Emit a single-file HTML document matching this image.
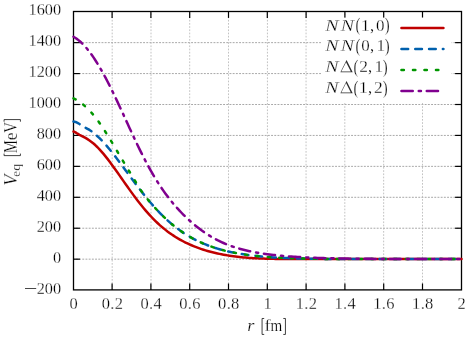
<!DOCTYPE html>
<html><head><meta charset="utf-8"><title>plot</title>
<style>
html,body{margin:0;padding:0;background:#fff;overflow:hidden;}
svg{display:block;}
text{font-family:"Liberation Serif";font-size:16.5px;fill:#000;stroke:#fff;stroke-width:0.25px;}
.it{font-style:italic;}
.tx{filter:grayscale(1);}
</style></head><body>
<svg width="469" height="339" viewBox="0 0 469 339">
<rect width="469" height="339" fill="#fff"/>
<g stroke="#929292" stroke-width="0.8" stroke-dasharray="1.9 1.3" stroke-dashoffset="0.8" fill="none"><line x1="73.5" y1="259.17" x2="461.5" y2="259.17"/><line x1="73.5" y1="228.23" x2="461.5" y2="228.23"/><line x1="73.5" y1="197.30" x2="461.5" y2="197.30"/><line x1="73.5" y1="166.37" x2="461.5" y2="166.37"/><line x1="73.5" y1="135.43" x2="461.5" y2="135.43"/><line x1="73.5" y1="104.50" x2="461.5" y2="104.50"/><line x1="73.5" y1="73.57" x2="461.5" y2="73.57"/><line x1="73.5" y1="42.63" x2="461.5" y2="42.63"/></g>
<g stroke="#b4b4b4" stroke-width="0.8" stroke-dasharray="1.7 1.5" stroke-dashoffset="1.3" fill="none"><line x1="112.20" y1="11.5" x2="112.20" y2="289.9"/><line x1="151.00" y1="11.5" x2="151.00" y2="289.9"/><line x1="189.70" y1="11.5" x2="189.70" y2="289.9"/><line x1="228.50" y1="11.5" x2="228.50" y2="289.9"/><line x1="267.45" y1="11.5" x2="267.45" y2="289.9"/><line x1="306.05" y1="11.5" x2="306.05" y2="289.9"/><line x1="344.80" y1="11.5" x2="344.80" y2="289.9"/><line x1="383.65" y1="11.5" x2="383.65" y2="289.9"/><line x1="422.50" y1="11.5" x2="422.50" y2="289.9"/></g>
<g stroke="#000" stroke-width="1.2" fill="none"><line x1="112.10" y1="289.9" x2="112.10" y2="283.5"/><line x1="112.10" y1="11.5" x2="112.10" y2="17.9"/><line x1="150.90" y1="289.9" x2="150.90" y2="283.5"/><line x1="150.90" y1="11.5" x2="150.90" y2="17.9"/><line x1="189.70" y1="289.9" x2="189.70" y2="283.5"/><line x1="189.70" y1="11.5" x2="189.70" y2="17.9"/><line x1="228.50" y1="289.9" x2="228.50" y2="283.5"/><line x1="228.50" y1="11.5" x2="228.50" y2="17.9"/><line x1="267.30" y1="289.9" x2="267.30" y2="283.5"/><line x1="267.30" y1="11.5" x2="267.30" y2="17.9"/><line x1="306.10" y1="289.9" x2="306.10" y2="283.5"/><line x1="306.10" y1="11.5" x2="306.10" y2="17.9"/><line x1="344.90" y1="289.9" x2="344.90" y2="283.5"/><line x1="344.90" y1="11.5" x2="344.90" y2="17.9"/><line x1="383.70" y1="289.9" x2="383.70" y2="283.5"/><line x1="383.70" y1="11.5" x2="383.70" y2="17.9"/><line x1="422.50" y1="289.9" x2="422.50" y2="283.5"/><line x1="422.50" y1="11.5" x2="422.50" y2="17.9"/><line x1="73.5" y1="259.17" x2="79.9" y2="259.17"/><line x1="461.5" y1="259.17" x2="455.1" y2="259.17"/><line x1="73.5" y1="228.23" x2="79.9" y2="228.23"/><line x1="461.5" y1="228.23" x2="455.1" y2="228.23"/><line x1="73.5" y1="197.30" x2="79.9" y2="197.30"/><line x1="461.5" y1="197.30" x2="455.1" y2="197.30"/><line x1="73.5" y1="166.37" x2="79.9" y2="166.37"/><line x1="461.5" y1="166.37" x2="455.1" y2="166.37"/><line x1="73.5" y1="135.43" x2="79.9" y2="135.43"/><line x1="461.5" y1="135.43" x2="455.1" y2="135.43"/><line x1="73.5" y1="104.50" x2="79.9" y2="104.50"/><line x1="461.5" y1="104.50" x2="455.1" y2="104.50"/><line x1="73.5" y1="73.57" x2="79.9" y2="73.57"/><line x1="461.5" y1="73.57" x2="455.1" y2="73.57"/><line x1="73.5" y1="42.63" x2="79.9" y2="42.63"/><line x1="461.5" y1="42.63" x2="455.1" y2="42.63"/></g>
<rect x="73.5" y="11.5" width="388.0" height="278.4" fill="none" stroke="#000" stroke-width="1.3"/>
<g fill="none" stroke-width="2.5" stroke-linecap="round" stroke-linejoin="round">
<path d="M73.5,131.49 L75.5,132.40 L77.5,133.69 L79.5,134.82 L81.5,135.77 L83.5,136.80 L85.5,137.92 L87.5,139.13 L89.5,140.45 L91.5,141.91 L93.5,143.52 L95.5,145.30 L97.5,147.25 L99.5,149.35 L101.5,151.57 L103.5,153.91 L105.5,156.34 L107.5,158.88 L109.5,161.49 L111.5,164.17 L113.5,166.92 L115.5,169.70 L117.5,172.53 L119.5,175.37 L121.5,178.23 L123.5,181.10 L125.5,183.95 L127.5,186.79 L129.5,189.60 L131.5,192.38 L133.5,195.12 L135.5,197.81 L137.5,200.44 L139.5,203.02 L141.5,205.53 L143.5,207.97 L145.5,210.35 L147.5,212.65 L149.5,214.87 L151.5,217.02 L153.5,219.09 L155.5,221.08 L157.5,222.99 L159.5,224.83 L161.5,226.59 L163.5,228.28 L165.5,229.89 L167.5,231.44 L169.5,232.91 L171.5,234.32 L173.5,235.66 L175.5,236.94 L177.5,238.17 L179.5,239.33 L181.5,240.45 L183.5,241.51 L185.5,242.52 L187.5,243.48 L189.5,244.40 L191.5,245.27 L193.5,246.11 L195.5,246.90 L197.5,247.66 L199.5,248.38 L201.5,249.06 L203.5,249.72 L205.5,250.34 L207.5,250.93 L209.5,251.49 L211.5,252.03 L213.5,252.53 L215.5,253.01 L217.5,253.47 L219.5,253.90 L221.5,254.30 L223.5,254.69 L225.5,255.05 L227.5,255.38 L229.5,255.70 L231.5,256.00 L233.5,256.27 L235.5,256.53 L237.5,256.77 L239.5,257.00 L241.5,257.20 L243.5,257.39 L245.5,257.57 L247.5,257.73 L249.5,257.88 L251.5,258.01 L253.5,258.13 L255.5,258.24 L257.5,258.34 L259.5,258.44 L261.5,258.52 L263.5,258.59 L265.5,258.66 L267.5,258.71 L269.5,258.77 L271.5,258.81 L273.5,258.85 L275.5,258.89 L277.5,258.92 L279.5,258.94 L281.5,258.97 L283.5,259.10 L285.5,259.10 L287.5,259.10 L289.5,259.10 L291.5,259.10 L293.5,259.10 L295.5,259.10 L297.5,259.10 L299.5,259.10 L301.5,259.10 L303.5,259.10 L305.5,259.10 L307.5,259.10 L309.5,259.10 L311.5,259.10 L313.5,259.10 L315.5,259.10 L317.5,259.10 L319.5,259.10 L321.5,259.10 L323.5,259.10 L325.5,259.10 L327.5,259.10 L329.5,259.10 L331.5,259.10 L333.5,259.10 L335.5,259.10 L337.5,259.10 L339.5,259.10 L341.5,259.10 L343.5,259.10 L345.5,259.10 L347.5,259.10 L349.5,259.10 L351.5,259.10 L353.5,259.10 L355.5,259.10 L357.5,259.10 L359.5,259.10 L361.5,259.10 L363.5,259.10 L365.5,259.10 L367.5,259.10 L369.5,259.10 L371.5,259.10 L373.5,259.10 L375.5,259.10 L377.5,259.10 L379.5,259.10 L381.5,259.10 L383.5,259.10 L385.5,259.10 L387.5,259.10 L389.5,259.10 L391.5,259.10 L393.5,259.10 L395.5,259.10 L397.5,259.10 L399.5,259.10 L401.5,259.10 L403.5,259.10 L405.5,259.10 L407.5,259.10 L409.5,259.10 L411.5,259.10 L413.5,259.10 L415.5,259.10 L417.5,259.10 L419.5,259.10 L421.5,259.10 L423.5,259.10 L425.5,259.10 L427.5,259.10 L429.5,259.10 L431.5,259.10 L433.5,259.10 L435.5,259.10 L437.5,259.10 L439.5,259.10 L441.5,259.10 L443.5,259.10 L445.5,259.10 L447.5,259.10 L449.5,259.10 L451.5,259.10 L453.5,259.10 L455.5,259.10 L457.5,259.10 L459.5,259.10 L461.5,259.10" stroke="#c00000"/>
<path d="M73.5,121.50 L75.5,121.93 L77.5,122.92 L79.5,124.01 L81.5,125.23 L83.5,126.51 L85.5,127.73 L87.5,128.81 L89.5,129.93 L91.5,131.24 L93.5,132.81 L95.5,134.53 L97.5,136.30 L99.5,138.17 L101.5,140.18 L103.5,142.31 L105.5,144.53 L107.5,146.84 L109.5,149.23 L111.5,151.69 L113.5,154.21 L115.5,156.79 L117.5,159.41 L119.5,162.07 L121.5,164.76 L123.5,167.47 L125.5,170.19 L127.5,172.91 L129.5,175.64 L131.5,178.35 L133.5,181.05 L135.5,183.73 L137.5,186.38 L139.5,189.00 L141.5,191.58 L143.5,194.12 L145.5,196.62 L147.5,199.07 L149.5,201.46 L151.5,203.80 L153.5,206.08 L155.5,208.31 L157.5,210.47 L159.5,212.57 L161.5,214.61 L163.5,216.58 L165.5,218.49 L167.5,220.34 L169.5,222.12 L171.5,223.84 L173.5,225.49 L175.5,227.09 L177.5,228.62 L179.5,230.10 L181.5,231.51 L183.5,232.87 L185.5,234.17 L187.5,235.41 L189.5,236.61 L191.5,237.75 L193.5,238.84 L195.5,239.89 L197.5,240.88 L199.5,241.84 L201.5,242.75 L203.5,243.61 L205.5,244.44 L207.5,245.23 L209.5,245.98 L211.5,246.69 L213.5,247.38 L215.5,248.02 L217.5,248.64 L219.5,249.23 L221.5,249.79 L223.5,250.32 L225.5,250.82 L227.5,251.30 L229.5,251.75 L231.5,252.18 L233.5,252.59 L235.5,252.98 L237.5,253.35 L239.5,253.70 L241.5,254.03 L243.5,254.34 L245.5,254.63 L247.5,254.91 L249.5,255.18 L251.5,255.43 L253.5,255.66 L255.5,255.88 L257.5,256.09 L259.5,256.29 L261.5,256.48 L263.5,256.65 L265.5,256.82 L267.5,256.97 L269.5,257.12 L271.5,257.26 L273.5,257.38 L275.5,257.51 L277.5,257.62 L279.5,257.72 L281.5,257.82 L283.5,257.92 L285.5,258.00 L287.5,258.08 L289.5,258.16 L291.5,258.23 L293.5,258.30 L295.5,258.36 L297.5,258.41 L299.5,258.47 L301.5,258.52 L303.5,258.56 L305.5,258.61 L307.5,258.65 L309.5,258.68 L311.5,258.72 L313.5,258.75 L315.5,258.78 L317.5,258.80 L319.5,258.83 L321.5,258.85 L323.5,258.87 L325.5,258.89 L327.5,258.91 L329.5,258.93 L331.5,258.94 L333.5,258.96 L335.5,258.97 L337.5,258.98 L339.5,259.10 L341.5,259.10 L343.5,259.10 L345.5,259.10 L347.5,259.10 L349.5,259.10 L351.5,259.10 L353.5,259.10 L355.5,259.10 L357.5,259.10 L359.5,259.10 L361.5,259.10 L363.5,259.10 L365.5,259.10 L367.5,259.10 L369.5,259.10 L371.5,259.10 L373.5,259.10 L375.5,259.10 L377.5,259.10 L379.5,259.10 L381.5,259.10 L383.5,259.10 L385.5,259.10 L387.5,259.10 L389.5,259.10 L391.5,259.10 L393.5,259.10 L395.5,259.10 L397.5,259.10 L399.5,259.10 L401.5,259.10 L403.5,259.10 L405.5,259.10 L407.5,259.10 L409.5,259.10 L411.5,259.10 L413.5,259.10 L415.5,259.10 L417.5,259.10 L419.5,259.10 L421.5,259.10 L423.5,259.10 L425.5,259.10 L427.5,259.10 L429.5,259.10 L431.5,259.10 L433.5,259.10 L435.5,259.10 L437.5,259.10 L439.5,259.10 L441.5,259.10 L443.5,259.10 L445.5,259.10 L447.5,259.10 L449.5,259.10 L451.5,259.10 L453.5,259.10 L455.5,259.10 L457.5,259.10 L459.5,259.10 L461.5,259.10" stroke="#0060ad" stroke-dasharray="6.7 7.1"/>
<path d="M73.5,98.35 L75.5,99.33 L77.5,100.47 L79.5,101.78 L81.5,103.24 L83.5,104.86 L85.5,106.62 L87.5,108.52 L89.5,110.55 L91.5,112.72 L93.5,115.03 L95.5,117.50 L97.5,120.13 L99.5,122.92 L101.5,125.83 L103.5,128.84 L105.5,131.95 L107.5,135.13 L109.5,138.37 L111.5,141.67 L113.5,145.01 L115.5,148.37 L117.5,151.74 L119.5,155.12 L121.5,158.50 L123.5,161.86 L125.5,165.19 L127.5,168.48 L129.5,171.74 L131.5,174.95 L133.5,178.10 L135.5,181.58 L137.5,184.98 L139.5,188.19 L141.5,191.21 L143.5,194.06 L145.5,196.62 L147.5,199.07 L149.5,201.46 L151.5,203.80 L153.5,206.08 L155.5,208.31 L157.5,210.47 L159.5,212.57 L161.5,214.61 L163.5,216.58 L165.5,218.49 L167.5,220.34 L169.5,222.12 L171.5,223.84 L173.5,225.49 L175.5,227.09 L177.5,228.62 L179.5,230.10 L181.5,231.51 L183.5,232.87 L185.5,234.17 L187.5,235.41 L189.5,236.61 L191.5,237.75 L193.5,238.84 L195.5,239.89 L197.5,240.88 L199.5,241.84 L201.5,242.75 L203.5,243.61 L205.5,244.44 L207.5,245.23 L209.5,245.98 L211.5,246.69 L213.5,247.38 L215.5,248.02 L217.5,248.64 L219.5,249.23 L221.5,249.79 L223.5,250.32 L225.5,250.82 L227.5,251.30 L229.5,251.75 L231.5,252.18 L233.5,252.59 L235.5,252.98 L237.5,253.35 L239.5,253.70 L241.5,254.03 L243.5,254.34 L245.5,254.63 L247.5,254.91 L249.5,255.18 L251.5,255.43 L253.5,255.66 L255.5,255.88 L257.5,256.09 L259.5,256.29 L261.5,256.48 L263.5,256.65 L265.5,256.82 L267.5,256.97 L269.5,257.12 L271.5,257.26 L273.5,257.38 L275.5,257.51 L277.5,257.62 L279.5,257.72 L281.5,257.82 L283.5,257.92 L285.5,258.00 L287.5,258.08 L289.5,258.16 L291.5,258.23 L293.5,258.30 L295.5,258.36 L297.5,258.41 L299.5,258.47 L301.5,258.52 L303.5,258.56 L305.5,258.61 L307.5,258.65 L309.5,258.68 L311.5,258.72 L313.5,258.75 L315.5,258.78 L317.5,258.80 L319.5,258.83 L321.5,258.85 L323.5,258.87 L325.5,258.89 L327.5,258.91 L329.5,258.93 L331.5,258.94 L333.5,258.96 L335.5,258.97 L337.5,258.98 L339.5,259.10 L341.5,259.10 L343.5,259.10 L345.5,259.10 L347.5,259.10 L349.5,259.10 L351.5,259.10 L353.5,259.10 L355.5,259.10 L357.5,259.10 L359.5,259.10 L361.5,259.10 L363.5,259.10 L365.5,259.10 L367.5,259.10 L369.5,259.10 L371.5,259.10 L373.5,259.10 L375.5,259.10 L377.5,259.10 L379.5,259.10 L381.5,259.10 L383.5,259.10 L385.5,259.10 L387.5,259.10 L389.5,259.10 L391.5,259.10 L393.5,259.10 L395.5,259.10 L397.5,259.10 L399.5,259.10 L401.5,259.10 L403.5,259.10 L405.5,259.10 L407.5,259.10 L409.5,259.10 L411.5,259.10 L413.5,259.10 L415.5,259.10 L417.5,259.10 L419.5,259.10 L421.5,259.10 L423.5,259.10 L425.5,259.10 L427.5,259.10 L429.5,259.10 L431.5,259.10 L433.5,259.10 L435.5,259.10 L437.5,259.10 L439.5,259.10 L441.5,259.10 L443.5,259.10 L445.5,259.10 L447.5,259.10 L449.5,259.10 L451.5,259.10 L453.5,259.10 L455.5,259.10 L457.5,259.10 L459.5,259.10 L461.5,259.10" stroke="#009600" stroke-dasharray="2.4 9.1"/>
<path d="M73.5,36.76 L75.5,37.96 L77.5,39.37 L79.5,40.97 L81.5,42.78 L83.5,44.77 L85.5,46.94 L87.5,49.29 L89.5,51.82 L91.5,54.53 L93.5,57.41 L95.5,60.46 L97.5,63.66 L99.5,66.99 L101.5,70.45 L103.5,74.03 L105.5,77.72 L107.5,81.52 L109.5,85.42 L111.5,89.42 L113.5,93.50 L115.5,97.66 L117.5,101.88 L119.5,106.16 L121.5,110.47 L123.5,114.82 L125.5,119.18 L127.5,123.55 L129.5,127.90 L131.5,132.24 L133.5,136.54 L135.5,140.79 L137.5,144.98 L139.5,149.10 L141.5,153.14 L143.5,157.10 L145.5,160.96 L147.5,164.72 L149.5,168.37 L151.5,171.92 L153.5,175.35 L155.5,178.67 L157.5,181.88 L159.5,184.99 L161.5,187.98 L163.5,190.87 L165.5,193.65 L167.5,196.34 L169.5,198.94 L171.5,201.44 L173.5,203.86 L175.5,206.20 L177.5,208.45 L179.5,210.64 L181.5,212.75 L183.5,214.79 L185.5,216.76 L187.5,218.67 L189.5,220.51 L191.5,222.29 L193.5,224.01 L195.5,225.67 L197.5,227.27 L199.5,228.81 L201.5,230.30 L203.5,231.72 L205.5,233.09 L207.5,234.41 L209.5,235.66 L211.5,236.87 L213.5,238.01 L215.5,239.11 L217.5,240.16 L219.5,241.15 L221.5,242.10 L223.5,243.00 L225.5,243.85 L227.5,244.66 L229.5,245.43 L231.5,246.15 L233.5,246.84 L235.5,247.49 L237.5,248.11 L239.5,248.69 L241.5,249.24 L243.5,249.76 L245.5,250.26 L247.5,250.72 L249.5,251.16 L251.5,251.58 L253.5,251.97 L255.5,252.35 L257.5,252.70 L259.5,253.03 L261.5,253.35 L263.5,253.65 L265.5,253.94 L267.5,254.21 L269.5,254.47 L271.5,254.71 L273.5,254.94 L275.5,255.16 L277.5,255.37 L279.5,255.57 L281.5,255.76 L283.5,255.93 L285.5,256.10 L287.5,256.27 L289.5,256.42 L291.5,256.56 L293.5,256.70 L295.5,256.83 L297.5,256.96 L299.5,257.08 L301.5,257.19 L303.5,257.29 L305.5,257.39 L307.5,257.49 L309.5,257.58 L311.5,257.67 L313.5,257.75 L315.5,257.82 L317.5,257.90 L319.5,257.97 L321.5,258.03 L323.5,258.09 L325.5,258.15 L327.5,258.21 L329.5,258.26 L331.5,258.31 L333.5,258.35 L335.5,258.40 L337.5,258.44 L339.5,258.48 L341.5,258.51 L343.5,258.55 L345.5,258.58 L347.5,258.61 L349.5,258.64 L351.5,258.67 L353.5,258.70 L355.5,258.72 L357.5,258.74 L359.5,258.77 L361.5,258.79 L363.5,258.81 L365.5,258.82 L367.5,258.84 L369.5,258.86 L371.5,258.87 L373.5,258.89 L375.5,258.90 L377.5,258.91 L379.5,258.92 L381.5,258.94 L383.5,258.95 L385.5,258.96 L387.5,258.97 L389.5,258.97 L391.5,259.10 L393.5,259.10 L395.5,259.10 L397.5,259.10 L399.5,259.10 L401.5,259.10 L403.5,259.10 L405.5,259.10 L407.5,259.10 L409.5,259.10 L411.5,259.10 L413.5,259.10 L415.5,259.10 L417.5,259.10 L419.5,259.10 L421.5,259.10 L423.5,259.10 L425.5,259.10 L427.5,259.10 L429.5,259.10 L431.5,259.10 L433.5,259.10 L435.5,259.10 L437.5,259.10 L439.5,259.10 L441.5,259.10 L443.5,259.10 L445.5,259.10 L447.5,259.10 L449.5,259.10 L451.5,259.10 L453.5,259.10 L455.5,259.10 L457.5,259.10 L459.5,259.10 L461.5,259.10" stroke="#80008f" stroke-dasharray="11.25 5.97 2.19 5.78"/>
</g>
<rect x="321" y="17.6" width="130.6" height="85.4" fill="#fff"/>
<g fill="none" stroke-width="2.5" stroke-linecap="round" stroke-linejoin="round">
<path d="M401.45,28.0 H443.45" stroke="#c00000"/>
<path d="M401.45,48.95 H443.45" stroke="#0060ad" stroke-dasharray="6.7 7.1"/>
<path d="M401.45,70.05 H443.45" stroke="#009600" stroke-dasharray="2.4 9.1"/>
<path d="M401.45,91.05 H443.45" stroke="#80008f" stroke-dasharray="11.3 6 2.2 5.8"/>
</g>
<g class="tx"><text transform="translate(73.50,308.5) scale(1,1.05)" text-anchor="middle">0</text><text style="letter-spacing:0.3px" transform="translate(112.45,308.5) scale(1,1.05)" text-anchor="middle">0.2</text><text style="letter-spacing:0.3px" transform="translate(151.25,308.5) scale(1,1.05)" text-anchor="middle">0.4</text><text style="letter-spacing:0.3px" transform="translate(190.05,308.5) scale(1,1.05)" text-anchor="middle">0.6</text><text style="letter-spacing:0.3px" transform="translate(228.85,308.5) scale(1,1.05)" text-anchor="middle">0.8</text><text transform="translate(267.50,308.5) scale(1,1.05)" text-anchor="middle">1</text><text style="letter-spacing:0.3px" transform="translate(306.45,308.5) scale(1,1.05)" text-anchor="middle">1.2</text><text style="letter-spacing:0.3px" transform="translate(345.25,308.5) scale(1,1.05)" text-anchor="middle">1.4</text><text style="letter-spacing:0.3px" transform="translate(384.05,308.5) scale(1,1.05)" text-anchor="middle">1.6</text><text style="letter-spacing:0.3px" transform="translate(422.85,308.5) scale(1,1.05)" text-anchor="middle">1.8</text><text transform="translate(461.50,308.5) scale(1,1.05)" text-anchor="middle">2</text><text style="font-size:16.3px" transform="translate(61.1,293.80) scale(1,1.075)" text-anchor="end">200</text><text style="font-size:16.3px" transform="translate(61.1,262.78) scale(1,1.075)" text-anchor="end">0</text><text style="font-size:16.3px" transform="translate(61.1,231.76) scale(1,1.075)" text-anchor="end">200</text><text style="font-size:16.3px" transform="translate(61.1,200.73) scale(1,1.075)" text-anchor="end">400</text><text style="font-size:16.3px" transform="translate(61.1,169.71) scale(1,1.075)" text-anchor="end">600</text><text style="font-size:16.3px" transform="translate(61.1,138.69) scale(1,1.075)" text-anchor="end">800</text><text style="font-size:16.3px" transform="translate(61.1,107.67) scale(1,1.075)" text-anchor="end">1000</text><text style="font-size:16.3px" transform="translate(61.1,76.64) scale(1,1.075)" text-anchor="end">1200</text><text style="font-size:16.3px" transform="translate(61.1,45.62) scale(1,1.075)" text-anchor="end">1400</text><text style="font-size:16.3px" transform="translate(61.1,14.60) scale(1,1.075)" text-anchor="end">1600</text><line x1="25.0" y1="288.60" x2="36.2" y2="288.60" stroke="#000" stroke-width="0.8"/></g>
<g class="tx"><text class="it" style="font-size:16.5px" transform="translate(325.15,30.50) scale(1.211,1.060)">N</text><text class="it" style="font-size:16.5px" transform="translate(340.75,30.50) scale(1.203,1.060)">N</text><text style="font-size:16.5px" transform="translate(355.55,31.00) scale(0.897,1.110)">(</text><text style="font-size:16.5px" transform="translate(361.03,30.50) scale(1.050,1.040)">1</text><text style="font-size:16.5px" transform="translate(370.06,30.50) scale(1.017,1.000)">,</text><text style="font-size:16.5px" transform="translate(376.05,30.50) scale(1.030,1.040)">0</text><text style="font-size:16.5px" transform="translate(384.72,31.00) scale(0.897,1.110)">)</text><text class="it" style="font-size:16.5px" transform="translate(325.15,51.40) scale(1.211,1.060)">N</text><text class="it" style="font-size:16.5px" transform="translate(340.75,51.40) scale(1.203,1.060)">N</text><text style="font-size:16.5px" transform="translate(355.55,51.90) scale(0.897,1.110)">(</text><text style="font-size:16.5px" transform="translate(361.35,51.40) scale(1.030,1.040)">0</text><text style="font-size:16.5px" transform="translate(370.06,51.40) scale(1.017,1.000)">,</text><text style="font-size:16.5px" transform="translate(376.43,51.40) scale(1.050,1.040)">1</text><text style="font-size:16.5px" transform="translate(384.72,51.90) scale(0.897,1.110)">)</text><text class="it" style="font-size:16.5px" transform="translate(325.15,72.30) scale(1.211,1.060)">N</text><path fill="#2c2c2c" fill-rule="evenodd" d="M340.40,72.30 L346.55,60.10 L352.70,72.30 Z M341.30,71.60 L346.05,62.18 L350.80,71.60 Z"/><text style="font-size:16.5px" transform="translate(353.55,72.80) scale(0.897,1.110)">(</text><text style="font-size:16.5px" transform="translate(359.33,72.30) scale(1.058,1.040)">2</text><text style="font-size:16.5px" transform="translate(368.06,72.30) scale(1.017,1.000)">,</text><text style="font-size:16.5px" transform="translate(374.43,72.30) scale(1.050,1.040)">1</text><text style="font-size:16.5px" transform="translate(382.72,72.80) scale(0.897,1.110)">)</text><text class="it" style="font-size:16.5px" transform="translate(325.15,93.20) scale(1.211,1.060)">N</text><path fill="#2c2c2c" fill-rule="evenodd" d="M340.40,93.20 L346.55,81.00 L352.70,93.20 Z M341.30,92.50 L346.05,83.08 L350.80,92.50 Z"/><text style="font-size:16.5px" transform="translate(353.55,93.70) scale(0.897,1.110)">(</text><text style="font-size:16.5px" transform="translate(359.03,93.20) scale(1.050,1.040)">1</text><text style="font-size:16.5px" transform="translate(368.06,93.20) scale(1.017,1.000)">,</text><text style="font-size:16.5px" transform="translate(374.03,93.20) scale(1.058,1.040)">2</text><text style="font-size:16.5px" transform="translate(382.72,93.70) scale(0.897,1.110)">)</text></g>
<g class="tx"><text class="it" style="font-size:16.5px" transform="translate(247.35,331.10) scale(1.121,0.950)">r</text><path d="M264.20,318.48 H262.07 V334.43 H264.20" fill="none" stroke="#000" stroke-width="0.75"/><text style="font-size:16.5px" transform="translate(264.43,331.10) scale(1.123,1.060)">f</text><text style="font-size:16.5px" transform="translate(270.58,331.10) scale(0.916,0.950)">m</text><path d="M283.30,318.48 H285.43 V334.43 H283.30" fill="none" stroke="#000" stroke-width="0.75"/></g>
<g class="tx"><g transform="translate(16.7,184.5) rotate(-90)"><text class="it" style="font-size:16.5px" transform="translate(-1.16,0.00) scale(1.111,1.150)">V</text><text style="font-size:12.5px" transform="translate(7.70,3.30) scale(1.016,1.000)">e</text><text style="font-size:12.5px" transform="translate(13.71,3.30) scale(1.095,0.920)">q</text><path d="M30.90,-12.62 H28.88 V3.72 H30.90" fill="none" stroke="#000" stroke-width="0.75"/><text style="font-size:16.5px" transform="translate(31.27,0.00) scale(0.904,1.150)">M</text><text style="font-size:16.5px" transform="translate(44.21,0.00) scale(1.064,1.120)">e</text><text style="font-size:16.5px" transform="translate(51.83,0.00) scale(0.892,1.150)">V</text><path d="M62.80,-12.62 H64.92 V3.72 H62.80" fill="none" stroke="#000" stroke-width="0.75"/></g></g>
</svg>
</body></html>
